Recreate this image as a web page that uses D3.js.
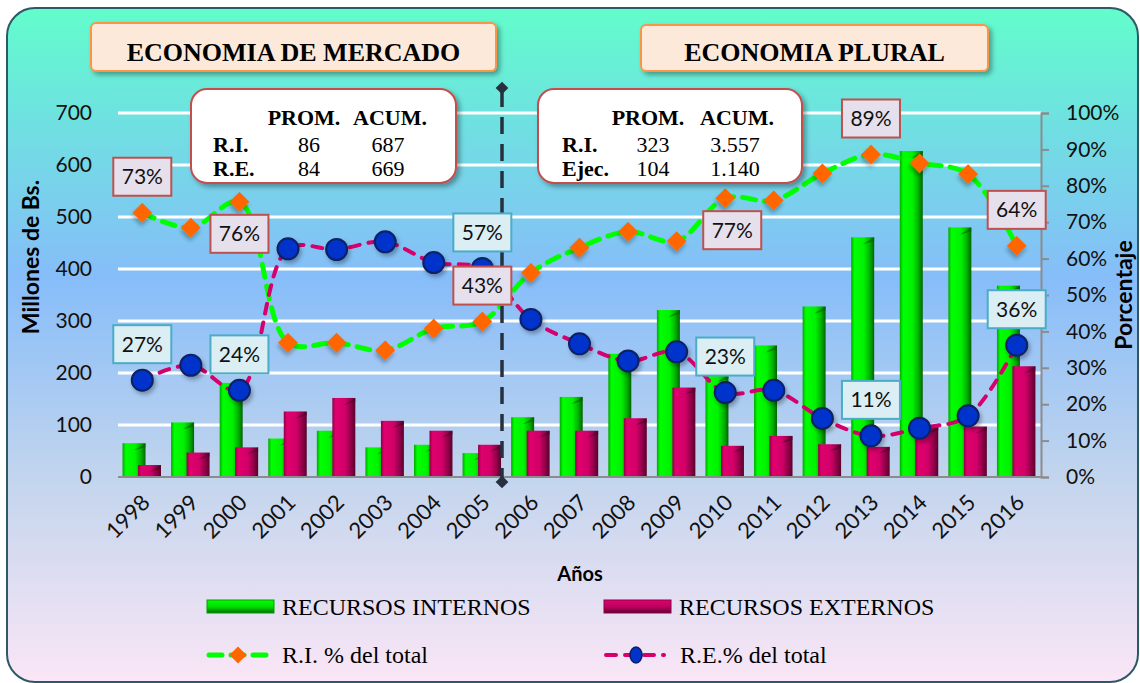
<!DOCTYPE html>
<html>
<head>
<meta charset="utf-8">
<script src="https://d3js.org/d3.v7.min.js"></script>
<style>
  body { margin: 0; background: #fff; }
  svg { display: block; }
</style>
</head>
<body>
<script>
var width = 1140,
    height = 683;

// data
var years = ["1998","1999","2000","2001","2002","2003","2004","2005","2006","2007",
             "2008","2009","2010","2011","2012","2013","2014","2015","2016"];
var recursosInternos = [65,105,181,74,89,57,62,46,115,154,237,321,196,253,328,461,627,480,368];
var recursosExternos = [23,47,57,126,152,108,89,62,89,89,113,172,60,79,63,58,97,97,213];
var riPct = [72.6,68.5,75.6,36.9,36.9,34.8,40.8,42.7,56.1,63.0,67.4,64.8,76.6,76.0,83.4,88.6,86.2,83.2,63.5];
var rePct = [26.6,30.7,23.8,62.7,62.5,64.6,58.9,57.3,43.3,36.6,31.9,34.4,23.2,23.8,16.1,11.3,13.4,16.8,36.2];
var labelYears = ["1998","2000","2005","2010","2013","2016"];
var leftTicks = [0,100,200,300,400,500,600,700];
var rightTicks = [0,0.1,0.2,0.3,0.4,0.5,0.6,0.7,0.8,0.9,1];
var tablaMercado = [["R.I.","86","687"],["R.E.","84","669"]];
var tablaPlural = [["R.I.","323","3.557"],["Ejec.","104","1.140"]];

var data = years.map(function(y, i) {
  return {year: y, ri: recursosInternos[i], re: recursosExternos[i], rip: riPct[i] / 100, rep: rePct[i] / 100};
});

var svg = d3.select("body").append("svg")
    .attr("width", width)
    .attr("height", height);

var defs = svg.append("defs");

var bg = defs.append("linearGradient").attr("id", "bg")
    .attr("x1", 0).attr("y1", 0).attr("x2", 0).attr("y2", 1);
[[0, "#62fdcb"], [0.16, "#6ee2e0"], [0.4, "#86bdf9"], [0.7, "#c3d5ed"], [1, "#fae6f6"]].forEach(function(s) {
  bg.append("stop").attr("offset", s[0]).attr("stop-color", s[1]);
});

function hGrad(id, stops) {
  var g = defs.append("linearGradient").attr("id", id)
      .attr("x1", 0).attr("y1", 0).attr("x2", 1).attr("y2", 0);
  stops.forEach(function(s) { g.append("stop").attr("offset", s[0]).attr("stop-color", s[1]); });
}
hGrad("gInt", [[0, "#00a800"], [0.14, "#00ff00"], [0.55, "#00f200"], [0.8, "#00b400"], [1, "#006400"]]);
hGrad("gExt", [[0, "#8c0046"], [0.14, "#e0006e"], [0.55, "#d20068"], [0.8, "#94004a"], [1, "#5a002c"]]);

var vInt = defs.append("linearGradient").attr("id", "lInt").attr("x1", 0).attr("y1", 0).attr("x2", 0).attr("y2", 1);
vInt.append("stop").attr("offset", 0).attr("stop-color", "#00ff00");
vInt.append("stop").attr("offset", 0.5).attr("stop-color", "#00e000");
vInt.append("stop").attr("offset", 1).attr("stop-color", "#007000");
var vExt = defs.append("linearGradient").attr("id", "lExt").attr("x1", 0).attr("y1", 0).attr("x2", 0).attr("y2", 1);
vExt.append("stop").attr("offset", 0).attr("stop-color", "#e0006e");
vExt.append("stop").attr("offset", 0.5).attr("stop-color", "#c00060");
vExt.append("stop").attr("offset", 1).attr("stop-color", "#600030");

var sh = defs.append("filter").attr("id", "shadow").attr("x", "-20%").attr("y", "-20%").attr("width", "150%").attr("height", "160%");
sh.append("feDropShadow").attr("dx", 3).attr("dy", 3).attr("stdDeviation", 2.5)
    .attr("flood-color", "#000").attr("flood-opacity", 0.35);
var sh2 = defs.append("filter").attr("id", "mshadow").attr("x", "-50%").attr("y", "-50%").attr("width", "200%").attr("height", "200%");
sh2.append("feDropShadow").attr("dx", 2).attr("dy", 3).attr("stdDeviation", 2)
    .attr("flood-color", "#000").attr("flood-opacity", 0.3);

// background panel
svg.append("rect")
    .attr("x", 7).attr("y", 8)
    .attr("width", 1131).attr("height", 674)
    .attr("rx", 28)
    .style("fill", "url(#bg)")
    .style("stroke", "#2c5868")
    .style("stroke-width", 2);

var x = d3.scaleBand().domain(years).range([118, 1041]);
var yL = d3.scaleLinear().domain([0, 700]).range([477, 113]);
var yR = d3.scaleLinear().domain([0, 1]).range([477, 113]);
var bw = x.bandwidth();

// gridlines
svg.selectAll(".grid")
    .data(leftTicks.filter(function(d) { return d > 0; }))
    .enter().append("line")
    .attr("x1", 118).attr("x2", 1041)
    .attr("y1", function(d) { return yL(d); })
    .attr("y2", function(d) { return yL(d); })
    .style("stroke", "#fff")
    .style("stroke-width", 3);

// left axis labels
svg.selectAll(".ltick")
    .data(leftTicks)
    .enter().append("text")
    .attr("x", 92)
    .attr("y", function(d) { return yL(d); })
    .attr("dy", "0.35em")
    .attr("text-anchor", "end")
    .style("font-family", "Lato, sans-serif")
    .style("font-size", "21px")
    .style("fill", "#111")
    .text(function(d) { return d; });

// right axis
var rAxis = svg.append("g").attr("transform", "translate(1041,0)")
    .call(d3.axisRight(yR).tickValues(rightTicks).tickSize(8).tickPadding(17)
      .tickFormat(d3.format(".0%")));
rAxis.select(".domain").style("stroke", "#8c8c8c").style("stroke-width", 2);
rAxis.selectAll(".tick line").style("stroke", "#8c8c8c").style("stroke-width", 2);
rAxis.selectAll("text")
    .style("font-family", "Lato, sans-serif")
    .style("font-size", "21px")
    .style("fill", "#111");

// bars
function bar(g, cls, xoff, val, fill, dark) {
  var bars = g.selectAll("." + cls)
      .data(data)
      .enter().append("g").attr("class", cls);
  bars.append("rect")
      .attr("x", function(d) { return x(d.year) + bw * xoff; })
      .attr("y", function(d) { return yL(val(d)); })
      .attr("width", bw * 0.473)
      .attr("height", function(d) { return yL(0) - yL(val(d)); })
      .style("fill", fill);
  bars.append("path")
      .attr("d", function(d) {
        var x0 = x(d.year) + bw * xoff, w = bw * 0.473, t = yL(val(d));
        return "M" + (x0 + w / 2) + "," + (t + 7) + "L" + (x0 + w) + "," + t + "L" + (x0 + w) + "," + (t + 4) + "Z";
      })
      .style("fill", dark)
      .style("opacity", 0.6);
}
bar(svg, "bint", 0.093, function(d) { return d.ri; }, "url(#gInt)", "#006000");
bar(svg, "bext", 0.412, function(d) { return d.re; }, "url(#gExt)", "#50002a");

// baseline
svg.append("line")
    .attr("x1", 118).attr("x2", 1041)
    .attr("y1", yL(0)).attr("y2", yL(0))
    .style("stroke", "#8c8c8c").style("stroke-width", 2);

// percentage lines
var lineRI = d3.line()
    .x(function(d) { return x(d.year) + bw / 2; })
    .y(function(d) { return yR(d.rip); })
    .curve(d3.curveCatmullRom.alpha(0.5));
var lineRE = d3.line()
    .x(function(d) { return x(d.year) + bw / 2; })
    .y(function(d) { return yR(d.rep); })
    .curve(d3.curveCatmullRom.alpha(0.5));

svg.append("path")
    .datum(data)
    .attr("d", lineRI)
    .style("fill", "none")
    .style("stroke", "#00ff00")
    .style("stroke-width", 5)
    .style("stroke-dasharray", "13,9")
    .style("stroke-linecap", "round");

svg.selectAll(".dia")
    .data(data)
    .enter().append("path")
    .attr("transform", function(d) { return "translate(" + (x(d.year) + bw / 2) + "," + yR(d.rip) + ") rotate(45)"; })
    .attr("d", "M-7,-7H7V7H-7Z")
    .attr("filter", "url(#mshadow)")
    .style("fill", "#ff6600");

svg.append("path")
    .datum(data)
    .attr("d", lineRE)
    .style("fill", "none")
    .style("stroke", "#d6006c")
    .style("stroke-width", 4)
    .style("stroke-dasharray", "10,9")
    .style("stroke-linecap", "round");

svg.selectAll(".dot")
    .data(data)
    .enter().append("circle")
    .attr("cx", function(d) { return x(d.year) + bw / 2; })
    .attr("cy", function(d) { return yR(d.rep); })
    .attr("r", 10.5)
    .attr("filter", "url(#mshadow)")
    .style("fill", "#0033cc")
    .style("stroke", "#0b2060")
    .style("stroke-width", 2);

// dashed separator between the two periods
var sepX = 502;
svg.append("line")
    .attr("x1", sepX).attr("x2", sepX)
    .attr("y1", 90).attr("y2", 480)
    .style("stroke", "#26303e")
    .style("stroke-width", 3.5)
    .style("stroke-dasharray", "17,10");
[88, 482].forEach(function(yy) {
  svg.append("path")
      .attr("transform", "translate(" + sepX + "," + yy + ") rotate(45)")
      .attr("d", "M-4.5,-4.5H4.5V4.5H-4.5Z")
      .style("fill", "#26303e");
});

// data labels
var below = ["2000", "2010"];
function labels(key, fill, stroke, fmt) {
  var lab = svg.selectAll(".lab-" + key)
      .data(data.filter(function(d) { return labelYears.indexOf(d.year) >= 0; }))
      .enter().append("g")
      .attr("transform", function(d) {
        var cy = yR(d[key]) + (key === "rip" && below.indexOf(d.year) >= 0 ? 32 : -36);
        var cx = x(d.year) + bw / 2 + (key === "rip" && d.year === "2010" ? 7 : 0);
        return "translate(" + cx + "," + cy + ")";
      });
  lab.append("rect")
      .attr("x", -29).attr("y", -19)
      .attr("width", 58).attr("height", 38)
      .style("fill", fill)
      .style("stroke", stroke)
      .style("stroke-width", 2);
  lab.append("text")
      .attr("text-anchor", "middle")
      .attr("dy", "0.36em")
      .style("font-family", "Lato, sans-serif")
      .style("font-size", "21px")
      .style("fill", "#111")
      .text(function(d) { return fmt(d[key]); });
}
var pctFmt = function(v) { return Math.round(v * 100) + "%"; };
labels("rip", "#e6e0ec", "#c0504d", pctFmt);
labels("rep", "#dbeef4", "#4bacc6", pctFmt);

// summary tables
function tabla(x0, x1, rows, colL, colP, colA) {
  var g = svg.append("g");
  g.append("rect")
      .attr("x", x0).attr("y", 89)
      .attr("width", x1 - x0).attr("height", 94)
      .attr("rx", 16)
      .attr("filter", "url(#shadow)")
      .style("fill", "#fff")
      .style("stroke", "#c0504d")
      .style("stroke-width", 2);
  var f = "'Liberation Serif', 'Times New Roman', serif";
  g.append("text").attr("x", colP).attr("y", 125).attr("text-anchor", "middle")
      .style("font-family", f).style("font-size", "22px").style("font-weight", "bold").text("PROM.");
  g.append("text").attr("x", colA).attr("y", 125).attr("text-anchor", "middle")
      .style("font-family", f).style("font-size", "22px").style("font-weight", "bold").text("ACUM.");
  rows.forEach(function(r, i) {
    var yy = 152 + i * 24;
    g.append("text").attr("x", colL).attr("y", yy)
        .style("font-family", f).style("font-size", "22px").style("font-weight", "bold").text(r[0]);
    g.append("text").attr("x", colP + 5).attr("y", yy).attr("text-anchor", "middle")
        .style("font-family", f).style("font-size", "22px").text(r[1]);
    g.append("text").attr("x", colA - 2).attr("y", yy).attr("text-anchor", "middle")
        .style("font-family", f).style("font-size", "22px").text(r[2]);
  });
}
tabla(191, 456, tablaMercado, 213, 304, 390);
tabla(538, 802, tablaPlural, 562, 648, 737);

// period titles
function titulo(x0, x1, y0, txt) {
  svg.append("rect")
      .attr("x", x0).attr("y", y0)
      .attr("width", x1 - x0).attr("height", 71 - y0)
      .attr("rx", 5)
      .attr("filter", "url(#shadow)")
      .style("fill", "#fde9d9")
      .style("stroke", "#f79646")
      .style("stroke-width", 2);
  svg.append("text")
      .attr("x", (x0 + x1) / 2).attr("y", 61)
      .attr("text-anchor", "middle")
      .style("font-family", "'Liberation Serif', 'Times New Roman', serif")
      .style("font-size", "26px")
      .style("font-weight", "bold")
      .text(txt);
}
titulo(91, 496, 23, "ECONOMIA DE MERCADO");
titulo(641, 988, 25, "ECONOMIA PLURAL");

// year labels
svg.selectAll(".year")
    .data(years)
    .enter().append("text")
    .attr("transform", function(d) { return "translate(" + (x(d) + bw / 2 + 9) + ",504) rotate(-45)"; })
    .attr("text-anchor", "end")
    .style("font-family", "Lato, sans-serif")
    .style("font-size", "22px")
    .style("fill", "#111")
    .text(function(d) { return d; });

// axis titles
var titleFont = "Lato, sans-serif";
svg.append("text")
    .attr("transform", "translate(39,257) rotate(-90)")
    .attr("text-anchor", "middle")
    .style("font-family", titleFont).style("font-size", "23px").style("font-weight", "bold")
    .text("Millones de Bs.");
svg.append("text")
    .attr("transform", "translate(1132,295) rotate(-90)")
    .attr("text-anchor", "middle")
    .style("font-family", titleFont).style("font-size", "23px").style("font-weight", "bold")
    .text("Porcentaje");
svg.append("text")
    .attr("x", 580).attr("y", 581)
    .attr("text-anchor", "middle")
    .style("font-family", titleFont).style("font-size", "20px").style("font-weight", "bold")
    .text("Años");

// legend
var legF = "'Liberation Serif', 'Times New Roman', serif";
function legBar(x0, fill, stroke, txt) {
  svg.append("rect")
      .attr("x", x0).attr("y", 600).attr("width", 67).attr("height", 13)
      .style("fill", fill).style("stroke", stroke).style("stroke-width", 1);
  svg.append("text")
      .attr("x", x0 + 75).attr("y", 615)
      .style("font-family", legF).style("font-size", "24px")
      .text(txt);
}
legBar(207, "url(#lInt)", "#00a000", "RECURSOS INTERNOS");
legBar(604, "url(#lExt)", "#900048", "RECURSOS EXTERNOS");

svg.append("line")
    .attr("x1", 209).attr("x2", 267).attr("y1", 655).attr("y2", 655)
    .style("stroke", "#00ff00").style("stroke-width", 5)
    .style("stroke-dasharray", "13,9").style("stroke-linecap", "round");
svg.append("path")
    .attr("transform", "translate(238,655) rotate(45)")
    .attr("d", "M-6,-6H6V6H-6Z")
    .style("fill", "#ff6600");
svg.append("text")
    .attr("x", 282).attr("y", 663)
    .style("font-family", legF).style("font-size", "24px")
    .text("R.I. % del total");

svg.append("line")
    .attr("x1", 606).attr("x2", 664).attr("y1", 655).attr("y2", 655)
    .style("stroke", "#d6006c").style("stroke-width", 4)
    .style("stroke-dasharray", "10,9").style("stroke-linecap", "round");
svg.append("ellipse")
    .attr("cx", 636).attr("cy", 655).attr("rx", 6).attr("ry", 8)
    .style("fill", "#0033cc").style("stroke", "#0b2060").style("stroke-width", 1.5);
svg.append("text")
    .attr("x", 680).attr("y", 663)
    .style("font-family", legF).style("font-size", "24px")
    .text("R.E.% del total");
</script>
</body>
</html>
